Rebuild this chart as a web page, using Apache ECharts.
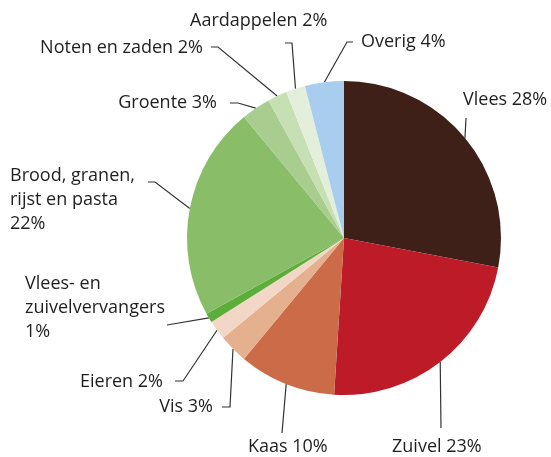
<!DOCTYPE html>
<html>
<head>
<meta charset="utf-8">
<script src="https://cdn.jsdelivr.net/npm/echarts@6/dist/echarts.min.js"></script>
<style>
  html, body { margin: 0; padding: 0; background: #fff; }
  #chart { width: 551px; height: 457px; }
</style>
</head>
<body>
<div id="chart"></div>
<script>
// categories, clockwise from 12 o'clock
const categories = ['Vlees', 'Zuivel', 'Kaas', 'Vis', 'Eieren', 'Vlees- en\nzuivelvervangers',
  'Brood, granen,\nrijst en pasta', 'Groente', 'Noten en zaden', 'Aardappelen', 'Overig']
const values = [28, 23, 10, 3, 2, 1, 22, 3, 2, 2, 4]
const colors = ['#3e2019', '#be1b28', '#cc6b48', '#e4b08e', '#f3d7c6', '#5cae3a',
  '#89bd67', '#a8cd8f', '#c6dfb3', '#e3efda', '#a8cdee']

// where each label sits and how its leader line bends (after leaving the slice edge)
const labelPos = [
  { x: 463, y: 100, align: 'left', bend: [[466, 118]] },
  { x: 392, y: 447, align: 'left', bend: [[441, 428]] },
  { x: 248, y: 447, align: 'left', bend: [[282, 433]] },
  { x: 213, y: 407, align: 'right', bend: [[230, 407], [222, 407]] },
  { x: 163, y: 382, align: 'right', bend: [[183, 381], [175, 381]] },
  { x: 25, y: 308, align: 'left', bend: [[167, 325]] },
  { x: 10, y: 200, align: 'left', bend: [[155, 182], [148, 182]] },
  { x: 217, y: 103, align: 'right', bend: [[238, 103], [230, 103]] },
  { x: 203, y: 48, align: 'right', bend: [[218, 47], [211, 47]] },
  { x: 190, y: 21, align: 'left', bend: [[292, 43], [285, 43]] },
  { x: 361, y: 42, align: 'left', bend: [[347, 42], [353, 42]] }
]

const data = categories.map((name, i) => ({
  name: name,
  value: values[i],
  itemStyle: { color: colors[i] }
}))

const myChart = echarts.init(document.getElementById('chart'))
const option = {
  animation: false,
  series: [{
    type: 'pie',
    center: [344, 238],
    radius: [0, 157],
    startAngle: 90,
    clockwise: true,
    avoidLabelOverlap: false,
    silent: true,
    data: data,
    label: {
      show: true,
      position: 'outside',
      color: '#1f1f1f',
      fontFamily: 'Open Sans',
      fontSize: 18,
      lineHeight: 24,
      formatter: function (p) {
        return p.name.indexOf('\n') > -1 ? p.name + '\n' + p.value + '%' : p.name + ' ' + p.value + '%'
      }
    },
    labelLine: {
      show: true,
      length: 10,
      length2: 10,
      lineStyle: { color: '#333', width: 1.2 }
    },
    labelLayout: function (params) {
      const pos = labelPos[params.dataIndex]
      const edge = params.labelLinePoints ? params.labelLinePoints[0] : null
      const out = {
        x: pos.x,
        y: pos.y,
        align: pos.align,
        verticalAlign: 'middle'
      }
      if (edge) {
        out.labelLinePoints = [edge].concat(pos.bend)
      }
      return out
    }
  }]
}
myChart.setOption(option)
</script>
</body>
</html>
